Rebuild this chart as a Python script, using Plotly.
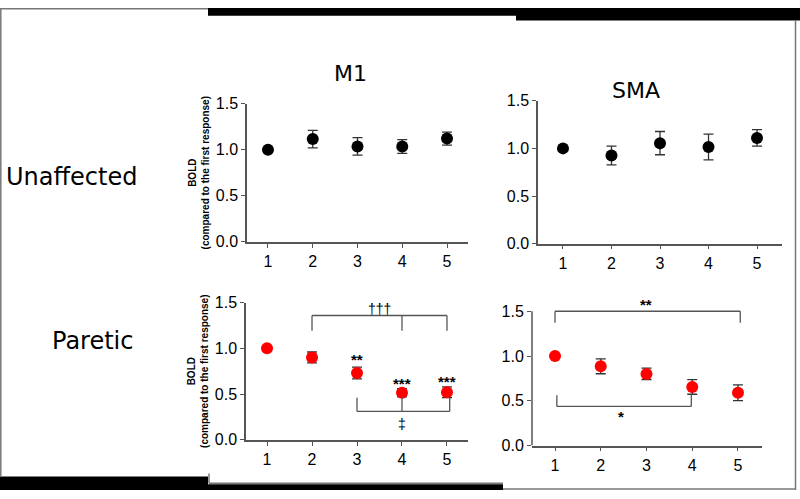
import plotly.graph_objects as go

W, H = 800, 499

sessions = [1, 2, 3, 4, 5]
m1_unaff = [1.0, 1.115, 1.035, 1.035, 1.12]
m1_unaff_err = [0.0, 0.095, 0.095, 0.075, 0.07]
sma_unaff = [1.0, 0.925, 1.055, 1.015, 1.11]
sma_unaff_err = [0.0, 0.098, 0.122, 0.135, 0.086]
m1_par = [1.0, 0.90, 0.73, 0.515, 0.52]
m1_par_err = [0.0, 0.06, 0.065, 0.045, 0.058]
sma_par = [1.0, 0.885, 0.80, 0.655, 0.59]
sma_par_err = [0.0, 0.083, 0.064, 0.082, 0.088]

col_titles = ["M1", "SMA"]
row_titles = ["Unaffected", "Paretic"]
ytitle = "<b>BOLD</b><br><b>(compared to the first response)</b>"

def px(x):
    return x / W

def py(y):
    return 1 - y / H

fig = go.Figure()

AX = "#555555"
panels = [
    (m1_unaff, m1_unaff_err, "black", (247, 468), (242, 99), [0.531, 5.469], [0, 1.5], True),
    (sma_unaff, sma_unaff_err, "black", (538, 782), (244, 96), [0.485, 5.515], [0, 1.5], False),
    (m1_par, m1_par_err, "#ff0000", (246, 468), (447, 305), [0.533, 5.467], [0, 1.5], True),
    (sma_par, sma_par_err, "#ff0000", (532, 762), (453, 290.8), [0.497, 5.525], [0, 1.75], False),
]

for i, (vals, err, col, xd, yd, xr, yr, has_title) in enumerate(panels):
    n = "" if i == 0 else str(i + 1)
    fig.add_trace(go.Scatter(
        x=sessions, y=vals, mode="markers",
        marker=dict(color=col, size=12, line=dict(width=0)),
        error_y=dict(type="data", array=err, visible=True, color="#333333",
                     thickness=1.3, width=5),
        xaxis="x" + n, yaxis="y" + n, showlegend=False, cliponaxis=False,
    ))
    xa = dict(domain=[px(xd[0]), px(xd[1])], range=xr, anchor="y" + n,
              showline=True, linecolor=AX, linewidth=1.5, showgrid=False, zeroline=False,
              tickvals=sessions, ticks="outside", ticklen=4, tickcolor=AX, tickwidth=1.2,
              tickfont=dict(family="Liberation Sans", size=16, color="black"))
    ya = dict(domain=[py(yd[0]), py(yd[1])], range=yr, anchor="x" + n,
              showline=(i != 3), linecolor=AX, linewidth=1.5, showgrid=False, zeroline=False,
              tickvals=[0, 0.5, 1.0, 1.5], tickformat=".1f", ticks="outside", ticklen=4,
              tickcolor=AX, tickwidth=1.2,
              tickfont=dict(family="Liberation Sans", size=16, color="black"))
    if has_title:
        ya["title"] = dict(text=ytitle, standoff=4,
                           font=dict(family="Liberation Sans", size=10, color="black"))
    fig.update_layout(**{"xaxis" + n: xa, "yaxis" + n: ya})

shapes = [dict(type="line", xref="x4 domain", yref="y4", x0=0, x1=0, y0=0, y1=1.5,
               line=dict(color=AX, width=1.5))]

BR = dict(color=AX, width=1.3)

def bracket(fig_shapes, ax, pts):
    for (xa_, ya_, xb, yb) in pts:
        fig_shapes.append(dict(type="line", xref="x" + ax, yref="y" + ax,
                               x0=xa_, y0=ya_, x1=xb, y1=yb, line=BR))

bracket(shapes, "3", [(2, 1.359, 5, 1.359), (2, 1.359, 2, 1.193), (4, 1.359, 4, 1.193),
                      (5, 1.359, 5, 1.193)])
bracket(shapes, "3", [(3, 0.31, 5.06, 0.31), (3, 0.31, 3, 0.459), (4, 0.31, 4, 0.47),
                      (5.06, 0.31, 5.06, 0.459)])
bracket(shapes, "4", [(1.0, 1.5, 5.05, 1.5), (1.0, 1.5, 1.0, 1.371), (5.05, 1.5, 5.05, 1.371)])
bracket(shapes, "4", [(1.04, 0.437, 3.98, 0.437), (1.04, 0.437, 1.04, 0.562),
                      (3.98, 0.437, 3.98, 0.573)])

blk = dict(color="black", width=0)
for (x0, y0, x1, y1) in [(208, 0, 800, 8), (516, 0, 800, 13), (0, 485, 208, 499),
                         (208, 493, 503, 499)]:
    shapes.append(dict(type="rect", xref="paper", yref="paper", x0=px(x0), x1=px(x1),
                       y0=py(y1), y1=py(y0), fillcolor="black", line=blk, layer="above"))
GR = dict(color="#777777", width=1.5)
for (x0, y0, x1, y1) in [(0.8, 0, 0.8, 485), (0, 0.8, 208, 0.8), (795.5, 13, 795.5, 499),
                         (503, 498, 795.5, 498), (209, 482, 209, 492), (209, 492, 503, 492)]:
    shapes.append(dict(type="line", xref="paper", yref="paper", x0=px(x0), x1=px(x1),
                       y0=py(y0), y1=py(y1), line=GR))

ann = []
TF = "DejaVu Sans"
ann.append(dict(text=col_titles[0], x=px(350), y=py(53), xref="paper", yref="paper",
                xanchor="center", showarrow=False, font=dict(family=TF, size=22, color="black")))
ann.append(dict(text=col_titles[1], x=px(636), y=py(70), xref="paper", yref="paper",
                xanchor="center", showarrow=False, font=dict(family=TF, size=22, color="black")))
ann.append(dict(text=row_titles[0], x=px(4), y=py(175), xref="paper", yref="paper",
                xanchor="left", showarrow=False, font=dict(family=TF, size=24, color="black")))
ann.append(dict(text=row_titles[1], x=px(50), y=py(361), xref="paper", yref="paper",
                xanchor="left", showarrow=False, font=dict(family=TF, size=24, color="black")))

def star(ax, x, y, t, size=15):
    ann.append(dict(text="<b>" + t + "</b>" if "*" in t else t, x=x, y=y, xref="x" + ax,
                    yref="y" + ax, showarrow=False,
                    font=dict(family="Liberation Sans", size=size, color="black")))

star("3", 3, 0.88, "**")
star("3", 4, 0.62, "***")
star("3", 5, 0.64, "***")
star("3", 3.5, 1.43, "†††", 14)
star("3", 4, 0.17, "‡", 14)
star("4", 2.99, 1.58, "**")
star("4", 2.44, 0.32, "*")

fig.update_layout(width=W, height=H, autosize=False,
                  margin=dict(l=0, r=0, t=0, b=0),
                  paper_bgcolor="white", plot_bgcolor="white",
                  shapes=shapes, annotations=ann)

fig.write_html("out.html", config={"displayModeBar": False},
               post_script="document.body.style.margin='0';document.body.style.padding='0';")
